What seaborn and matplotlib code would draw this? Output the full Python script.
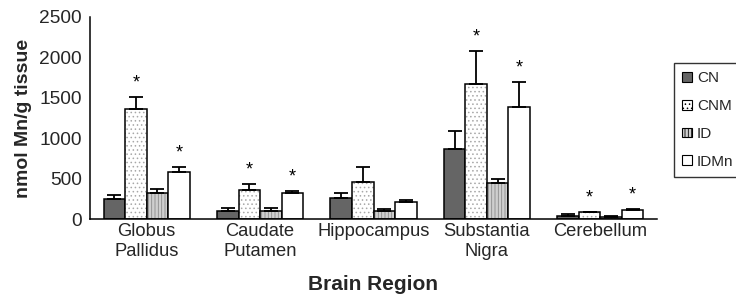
import numpy as np
import pandas as pd
import matplotlib
matplotlib.use("Agg")
import matplotlib.pyplot as plt
import matplotlib.colors as mcolors
from matplotlib.patches import Patch
import seaborn as sns

regions = ["Globus\nPallidus", "Caudate\nPutamen", "Hippocampus", "Substantia\nNigra", "Cerebellum"]
groups = ["CN", "CNM", "ID", "IDMn"]
cn = [244, 99, 264, 866, 37]
cnm = [1365, 355, 454, 1667, 87]
id_ = [318, 95, 95, 449, 30]
idmn = [585, 322, 210, 1390, 115]
cn_err = [53, 41, 58, 223, 21]
cnm_err = [149, 82, 193, 412, 5]
id_err = [57, 41, 25, 46, 8]
idmn_err = [62, 21, 21, 302, 6]
stars = [[False, True, False, True],
         [False, True, False, True],
         [False, False, False, False],
         [False, True, False, True],
         [False, True, False, True]]

sns.set_theme(style="white")
plt.rcParams["font.family"] = ["Liberation Sans", "DejaVu Sans"]
plt.rcParams["hatch.linewidth"] = 0.6

values = {"CN": cn, "CNM": cnm, "ID": id_, "IDMn": idmn}
errors = {"CN": cn_err, "CNM": cnm_err, "ID": id_err, "IDMn": idmn_err}
rows = []
for g in groups:
    for r, v in zip(regions, values[g]):
        rows.append({"region": r, "group": g, "value": v})
df = pd.DataFrame(rows)

fills = {"CN": "#656565", "CNM": "#ffffff", "ID": "#cfcfcf", "IDMn": "#ffffff"}
hatches = {"CN": "", "CNM": "....", "ID": "|||||", "IDMn": ""}
hatch_cols = {"CN": "#656565", "CNM": "#a8a8a8", "ID": "#8a8a8a", "IDMn": "#ffffff"}

fig = plt.figure(figsize=(7.36, 2.95), dpi=100)
ax = fig.add_axes([90/736, 1-219/295, (657-90)/736, (219-17)/295])

sns.barplot(data=df, x="region", y="value", hue="group", order=regions, hue_order=groups,
            palette=fills, edgecolor="black", linewidth=1.1, width=0.76, gap=0,
            errorbar=None, legend=False, ax=ax)

for gi, (g, cont) in enumerate(zip(groups, ax.containers)):
    for ri, bar in enumerate(cont):
        bar.set_hatch(hatches[g])
        bar._hatch_color = mcolors.to_rgba(hatch_cols[g])
        x = bar.get_x() + bar.get_width() / 2
        h = bar.get_height()
        e = errors[g][ri]
        ax.errorbar(x, h, yerr=[[0], [e]], color="black", capsize=5, capthick=1.3,
                    elinewidth=1.3, fmt="none", zorder=1)
        if stars[ri][gi]:
            ax.annotate("*", (x, h + e), xytext=(0, 10), textcoords="offset points",
                        ha="center", va="center", fontsize=13, color="black")

ax.set_ylim(0, 2500)
ax.set_yticks(np.arange(0, 2501, 500))
ax.set_xlim(-0.5, len(regions) - 0.5)
ax.set_xticks(range(len(regions)))
ax.set_xticklabels(regions, fontsize=13.2, linespacing=1.2)
ax.set_xticks(np.arange(-0.5, len(regions), 1.0), minor=True)
ax.tick_params(axis="x", which="major", length=0, pad=3)
ax.tick_params(axis="x", which="minor", length=4, width=1, color="black", direction="out")
ax.tick_params(axis="y", length=4, width=1, color="black", direction="out", labelsize=13.8, pad=2)
for s in ["top", "right"]:
    ax.spines[s].set_visible(False)
for s in ["left", "bottom"]:
    ax.spines[s].set_color("black")
    ax.spines[s].set_linewidth(1.1)

ax.set_xlabel("Brain Region", fontsize=15, fontweight="bold", labelpad=11)
ax.set_ylabel("nmol Mn/g tissue", fontsize=14, fontweight="bold", labelpad=5)

handles = []
for g in groups:
    p = Patch(facecolor=fills[g], edgecolor="black", hatch=hatches[g], linewidth=0.8, label=g)
    handles.append(p)
leg = fig.legend(handles=handles, loc="upper left", bbox_to_anchor=(674/736, 1-63/295),
                 frameon=True, fancybox=False, edgecolor="black", fontsize=11,
                 handlelength=0.6, handleheight=0.6, handletextpad=0.35, labelspacing=0.9,
                 borderpad=0.55, borderaxespad=0)
leg.get_frame().set_linewidth(1.0)

fig.savefig("out.png", dpi=100)
